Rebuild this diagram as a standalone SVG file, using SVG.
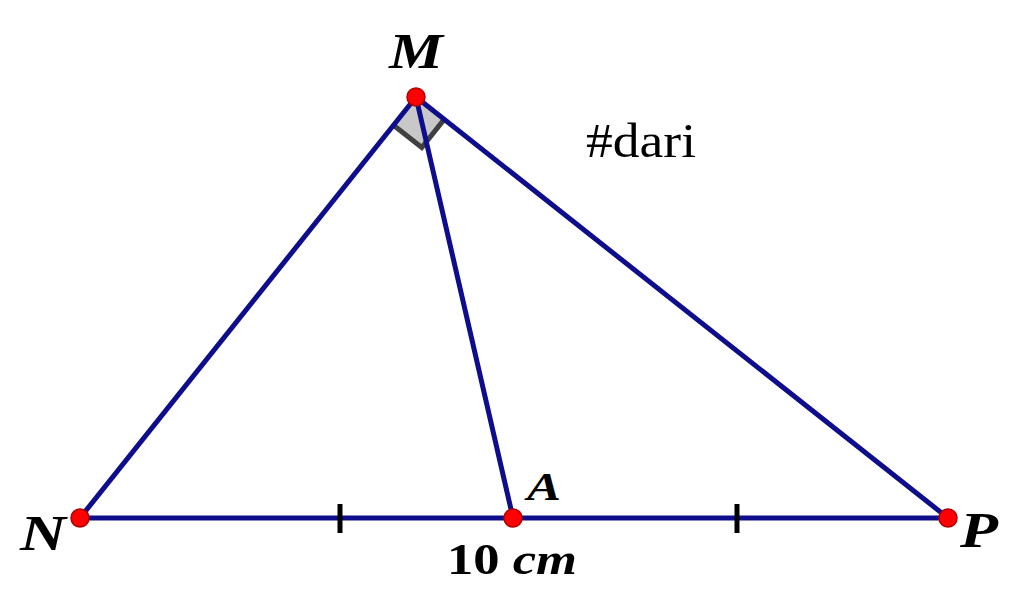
<svg xmlns="http://www.w3.org/2000/svg" width="1024" height="611" viewBox="0 0 1024 611">
<style>
.seg{stroke:#0e0e8c;stroke-width:5;stroke-linecap:round;fill:none}
.tick{stroke:#000;stroke-width:5}
.pt{fill:#ff0000;stroke:#b00000;stroke-width:1.5}
.lbl{font-family:"Liberation Serif","Times New Roman",serif;font-weight:bold;font-style:italic;fill:#000}
.txt{font-family:"Liberation Serif","Times New Roman",serif;fill:#000}
</style>
<rect width="1024" height="611" fill="#fff"/>
<g id="right-angle">
<polygon points="416,97 393.5,125.2 421.8,147.5 444.2,119.4" fill="#c8c8c8" stroke="none"/>
<polyline points="393.5,125.2 421.8,147.5 444.2,119.4" fill="none" stroke="#404040" stroke-width="5"/>
</g>
<g id="connectors">
<line class="seg" x1="416" y1="97" x2="80" y2="518"/>
<line class="seg" x1="416" y1="97" x2="948" y2="518"/>
<line class="seg" x1="416" y1="97" x2="513" y2="518"/>
<line class="seg" x1="80" y1="518" x2="948" y2="518"/>
<line class="tick" x1="340" y1="504" x2="340" y2="533"/>
<line class="tick" x1="737" y1="504" x2="737" y2="533"/>
</g>
<g id="node-M">
<circle class="pt" cx="416" cy="97" r="9"/>
<text class="lbl" x="389" y="68" font-size="50" textLength="54" lengthAdjust="spacingAndGlyphs">M</text>
</g>
<g id="node-N">
<circle class="pt" cx="80" cy="518" r="9"/>
<text class="lbl" x="20" y="550" font-size="50" textLength="46" lengthAdjust="spacingAndGlyphs">N</text>
</g>
<g id="node-A">
<circle class="pt" cx="513" cy="518" r="9"/>
<text class="lbl" x="527" y="500" font-size="41" textLength="34" lengthAdjust="spacingAndGlyphs">A</text>
</g>
<g id="node-P">
<circle class="pt" cx="948" cy="518" r="9"/>
<text class="lbl" x="960" y="547" font-size="50" textLength="38" lengthAdjust="spacingAndGlyphs">P</text>
</g>
<g id="label-length">
<text x="447" y="574" font-size="44" class="txt" font-weight="bold" textLength="130" lengthAdjust="spacingAndGlyphs">10 <tspan font-style="italic">cm</tspan></text>
</g>
<g id="label-dari">
<text class="txt" x="586" y="157" font-size="48" textLength="110" lengthAdjust="spacingAndGlyphs">#dari</text>
</g>
</svg>
